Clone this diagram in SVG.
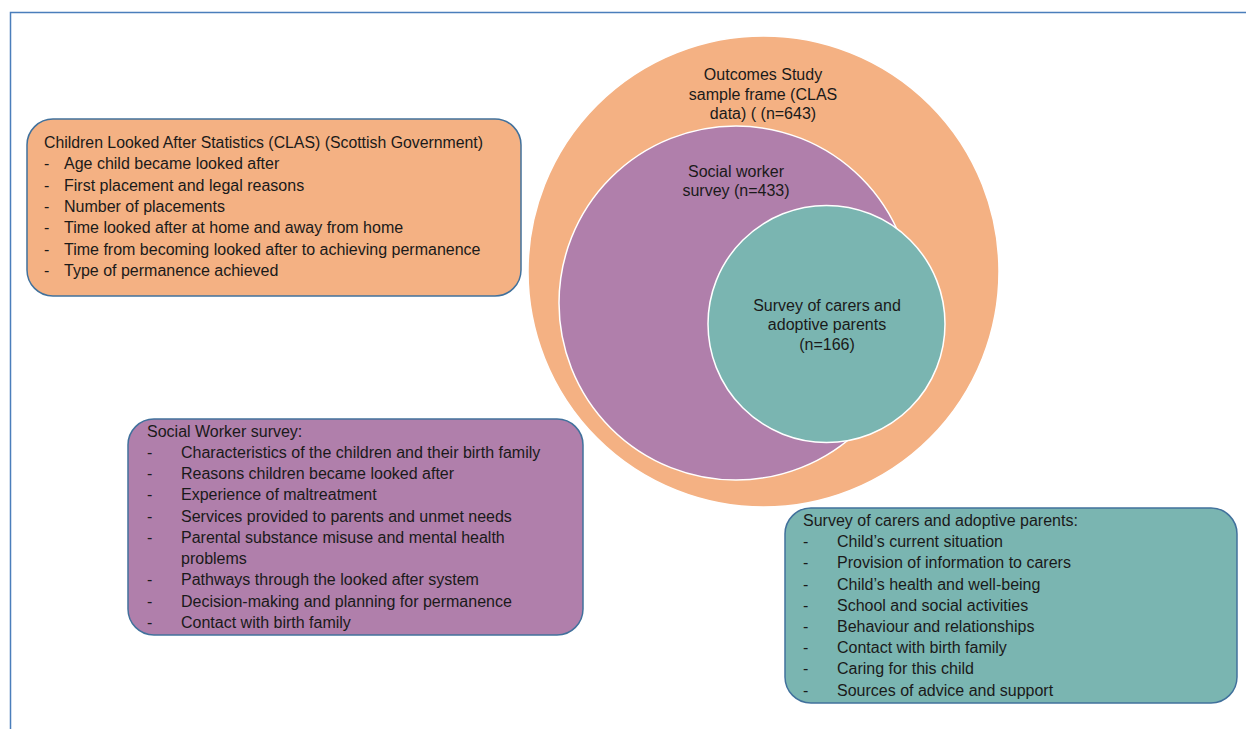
<svg xmlns="http://www.w3.org/2000/svg" width="1246" height="729" viewBox="0 0 1246 729">
<style>
text{font-family:"Liberation Sans",Arial,sans-serif;font-size:16px;fill:#1a1a1a}
.c{text-anchor:middle}
.box{stroke:#41719C;stroke-width:1.5}
.circ{stroke:#ffffff;stroke-width:1.5}
</style>
<rect width="1246" height="729" fill="#ffffff"/>
<g id="frame"><path d="M1246 12.5 H10.5 V729" fill="none" stroke="#4A7EBB" stroke-width="1.5"/></g>
<g id="venn">
<circle id="outer" class="circ" cx="763.5" cy="271.5" r="235.5" fill="#F4B183"/>
<circle id="social" class="circ" cx="736" cy="303" r="177" fill="#B07FAB"/>
<circle id="carers" class="circ" cx="826.5" cy="324" r="118.5" fill="#7AB5B1"/>
<text class="c" x="763" y="80">Outcomes Study</text>
<text class="c" x="763" y="100">sample frame (CLAS</text>
<text class="c" x="763" y="119">data) ( (n=643)</text>
<text class="c" x="736" y="177">Social worker</text>
<text class="c" x="736" y="196">survey (n=433)</text>
<text class="c" x="827" y="311">Survey of carers and</text>
<text class="c" x="827" y="330">adoptive parents</text>
<text class="c" x="827" y="350">(n=166)</text>
</g>
<g id="clas-box">
<rect class="box" x="27" y="119" width="494" height="177" rx="26" fill="#F4B183"/>
<text x="44" y="148" textLength="439" lengthAdjust="spacingAndGlyphs">Children Looked After Statistics (CLAS) (Scottish Government)</text>
<text x="44" y="169">-</text><text x="64" y="169">Age child became looked after</text>
<text x="44" y="191">-</text><text x="64" y="191">First placement and legal reasons</text>
<text x="44" y="212">-</text><text x="64" y="212">Number of placements</text>
<text x="44" y="233">-</text><text x="64" y="233">Time looked after at home and away from home</text>
<text x="44" y="255">-</text><text x="64" y="255">Time from becoming looked after to achieving permanence</text>
<text x="44" y="276">-</text><text x="64" y="276">Type of permanence achieved</text>
</g>
<g id="social-box">
<rect class="box" x="128" y="419" width="455" height="216" rx="26" fill="#B07FAB"/>
<text x="147" y="437">Social Worker survey:</text>
<text x="147" y="458">-</text><text x="181" y="458">Characteristics of the children and their birth family</text>
<text x="147" y="479">-</text><text x="181" y="479">Reasons children became looked after</text>
<text x="147" y="500">-</text><text x="181" y="500">Experience of maltreatment</text>
<text x="147" y="522">-</text><text x="181" y="522">Services provided to parents and unmet needs</text>
<text x="147" y="543">-</text><text x="181" y="543">Parental substance misuse and mental health</text>
<text x="181" y="564">problems</text>
<text x="147" y="585">-</text><text x="181" y="585">Pathways through the looked after system</text>
<text x="147" y="607">-</text><text x="181" y="607">Decision-making and planning for permanence</text>
<text x="147" y="628">-</text><text x="181" y="628">Contact with birth family</text>
</g>
<g id="carers-box">
<rect class="box" x="785" y="508" width="452" height="195" rx="26" fill="#7AB5B1"/>
<text x="803" y="526">Survey of carers and adoptive parents:</text>
<text x="803" y="547">-</text><text x="837" y="547">Child’s current situation</text>
<text x="803" y="568">-</text><text x="837" y="568">Provision of information to carers</text>
<text x="803" y="590">-</text><text x="837" y="590">Child’s health and well-being</text>
<text x="803" y="611">-</text><text x="837" y="611">School and social activities</text>
<text x="803" y="632">-</text><text x="837" y="632">Behaviour and relationships</text>
<text x="803" y="653">-</text><text x="837" y="653">Contact with birth family</text>
<text x="803" y="674">-</text><text x="837" y="674">Caring for this child</text>
<text x="803" y="696">-</text><text x="837" y="696">Sources of advice and support</text>
</g>
</svg>
